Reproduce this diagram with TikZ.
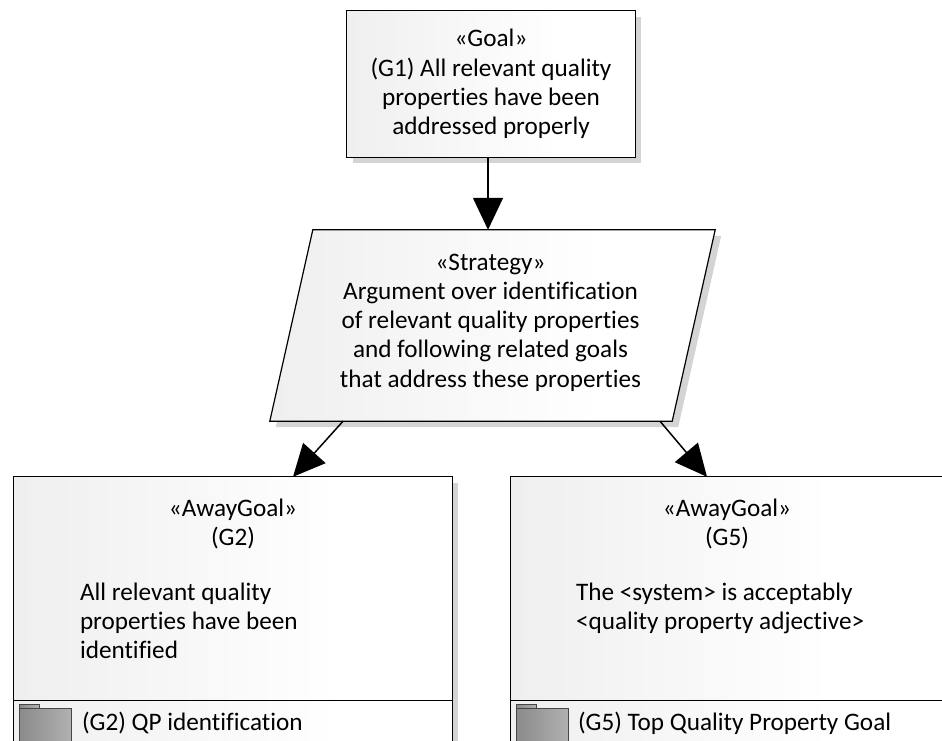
\documentclass[tikz,border=0pt]{standalone}
\usepackage{fontspec}
\setmainfont{Carlito}[Ligatures=NoCommon]
\usetikzlibrary{arrows.meta,calc,backgrounds}

\definecolor{lightfill}{RGB}{228,228,228}
\definecolor{shadowgray}{RGB}{212,212,212}
\definecolor{folderdark}{RGB}{120,120,120}
\definecolor{folderlight}{RGB}{196,196,196}
\definecolor{folderedge}{RGB}{70,70,70}

\pgfdeclarehorizontalshading{boxfill}{100bp}{color(0bp)=(lightfill); color(62bp)=(white); color(100bp)=(white)}
\pgfdeclarehorizontalshading{folderfill}{100bp}{color(0bp)=(folderdark); color(100bp)=(folderlight)}

\tikzset{
  elementbox/.style={draw=black, line width=1.2pt, shading=boxfill, rectangle, inner sep=0pt},
  plainlabel/.style={inner sep=0pt, align=center},
  bodylabel/.style={inner sep=0pt, align=left, anchor=north west},
  footlabel/.style={inner sep=0pt, anchor=west},
  flow/.style={line width=1.5pt, -{Triangle[length=32pt,width=30pt]}},
  shadowfill/.style={fill=shadowgray},
  foldericon/.style={draw=folderedge, line width=0.8pt, shading=folderfill}
}

\begin{document}
\begin{tikzpicture}[x=1pt, y=-1pt, font=\fontsize{25.2}{29.2}\selectfont]
\useasboundingbox (0,0) rectangle (942,740);
\clip (0,0) rectangle (942,740);

% top goal
\node[plainlabel, minimum width=288pt, minimum height=146pt] (g1) at (491,84)
  {«Goal»\\(G1) All relevant quality\\properties have been\\addressed properly};

% strategy (text node spans the bounding box of the parallelogram)
\node[plainlabel, minimum width=445pt, minimum height=191pt] (strat) at (492.5,325.5) {};
\node[plainlabel] (strattext) at ($(strat.center)+(-2,-3)$)
  {«Strategy»\\Argument over identification\\of relevant quality properties\\and following related goals\\that address these properties};

% away goals
\node[rectangle, inner sep=0pt, minimum width=438pt, minimum height=300pt] (g2) at (233,627) {};
\node[rectangle, inner sep=0pt, minimum width=432pt, minimum height=300pt] (g5) at (727,627) {};

\begin{scope}[on background layer]
  % shadows
  \fill[shadowfill] ($(g1.north west)+(6,6)$) rectangle ($(g1.south east)+(6,6)$);
  \fill[shadowfill] ($(strat.north west)+(49,6)$) -- ($(strat.north east)+(6,6)$)
     -- ($(strat.south east)+(-37,6)$) -- ($(strat.south west)+(6,6)$) -- cycle;
  \fill[shadowfill] ($(g2.north west)+(6,6)$) rectangle ($(g2.south east)+(6,6)$);
  % shapes
  \path[elementbox] (g1.north west) rectangle (g1.south east);
  \path[elementbox] ($(strat.north west)+(43,0)$) -- (strat.north east)
     -- ($(strat.south east)+(-43,0)$) -- (strat.south west) -- cycle;
  \path[elementbox] (g2.north west) rectangle (g2.south east);
  \path[elementbox] (g5.north west) rectangle (g5.south east);
\end{scope}

% G2 contents
\node[plainlabel] (g2head) at ($(g2.north)+(0,47.5)$) {«AwayGoal»\\(G2)};
\node[bodylabel] (g2body) at ($(g2.north west)+(66,106)$)
  {All relevant quality\\properties have been\\identified};
\draw[line width=1.2pt] ($(g2.north west)+(0,224)$) coordinate (g2divl) -- ($(g2.north east)+(0,224)$) coordinate (g2divr);
\path[foldericon] ($(g2.north west)+(6,228)$) rectangle ($(g2.north west)+(26,233)$);
\path[foldericon] ($(g2.north west)+(6,232)$) rectangle ($(g2.north west)+(58,270)$);
\node[footlabel] (g2foot) at ($(g2.north west)+(68,246)$) {(G2) QP identification};

% G5 contents
\node[plainlabel] (g5head) at ($(g5.north)+(0,47.5)$) {«AwayGoal»\\(G5)};
\node[bodylabel] (g5body) at ($(g5.north west)+(65,106)$)
  {The <system> is acceptably\\<quality property adjective>};
\draw[line width=1.2pt] ($(g5.north west)+(0,224)$) coordinate (g5divl) -- ($(g5.north east)+(0,224)$) coordinate (g5divr);
\path[foldericon] ($(g5.north west)+(6,228)$) rectangle ($(g5.north west)+(26,233)$);
\path[foldericon] ($(g5.north west)+(6,232)$) rectangle ($(g5.north west)+(58,270)$);
\node[footlabel] (g5foot) at ($(g5.north west)+(67,246)$) {(G5) Top Quality Property Goal};

% connectors
\draw[flow] ($(g1.south)+(-3,0)$) -- ($(g1.south |- strat.north)+(-3,0)$);
\draw[flow] ($(strat.south)+(-149.5,0)$) -- ($(g2.north)+(60,0)$);
\draw[flow] ($(strat.south)+(167.5,0)$) -- ($(g5.north)+(-20,0)$);
\end{tikzpicture}
\end{document}
